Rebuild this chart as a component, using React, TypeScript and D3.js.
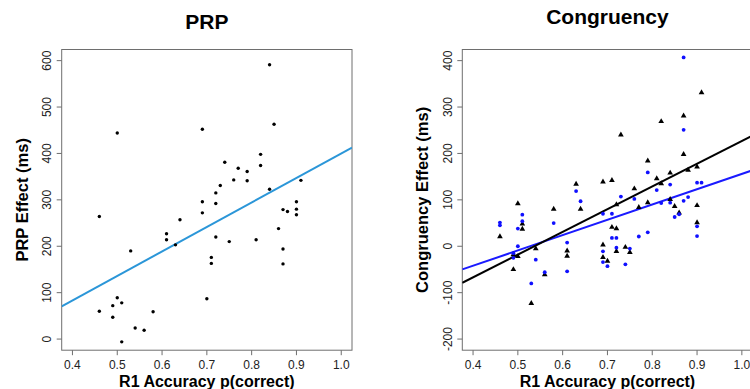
import React, { useEffect, useRef } from 'react';
import * as d3 from 'd3';

// PRP panel: R1 accuracy vs PRP effect
const prpAcc = [0.46, 0.46, 0.49, 0.49, 0.50, 0.50, 0.51, 0.51, 0.53, 0.54, 0.56, 0.58, 0.61, 0.61, 0.63, 0.64,
  0.69, 0.69, 0.69, 0.70, 0.71, 0.71, 0.72, 0.72, 0.72, 0.73, 0.74, 0.75, 0.76, 0.77, 0.79, 0.79, 0.81, 0.82,
  0.82, 0.84, 0.84, 0.85, 0.86, 0.87, 0.87, 0.87, 0.88, 0.90, 0.90, 0.90, 0.91];
const prpEffect = [264, 60, 72, 47, 89, 444, 78, -6, 190, 24, 19, 59, 227, 214, 203, 257,
  452, 296, 272, 87, 176, 163, 315, 292, 220, 331, 381, 210, 343, 368, 361, 341, 214, 398,
  374, 591, 323, 463, 238, 279, 194, 162, 275, 296, 280, 268, 342];

// Congruency panel, blue dots
const blueAcc = [0.46, 0.46, 0.50, 0.50, 0.51, 0.51, 0.49, 0.49, 0.53, 0.54, 0.56, 0.58, 0.61, 0.61, 0.63, 0.64,
  0.69, 0.69, 0.69, 0.70, 0.71, 0.71, 0.72, 0.72, 0.73, 0.74, 0.75, 0.76, 0.77, 0.79, 0.79, 0.81, 0.82,
  0.84, 0.84, 0.85, 0.86, 0.87, 0.87, 0.87, 0.88, 0.90, 0.91, 0.90, 0.90];
const blueEffect = [51, 45, 38, 0, 68, 54, -15, -25, -80, -29, -56, 50, 8, -54, 119, 97,
  70, -11, -34, -43, 70, 18, 18, -3, 107, -39, -5, 102, 21, 159, 30, 121, 93,
  133, 94, 63, 69, 407, 251, 98, 106, 137, 137, 43, 22];

// Congruency panel, black triangles
const triAcc = [0.46, 0.49, 0.49, 0.50, 0.50, 0.51, 0.51, 0.54, 0.53, 0.56, 0.58, 0.61, 0.61, 0.63, 0.64,
  0.69, 0.69, 0.69, 0.70, 0.71, 0.71, 0.72, 0.72, 0.72, 0.73, 0.74, 0.75, 0.76, 0.77, 0.79, 0.79, 0.81,
  0.82, 0.82, 0.84, 0.84, 0.85, 0.86, 0.87, 0.87, 0.88, 0.90, 0.90, 0.90, 0.91];
const triEffect = [21, -50, -18, -22, 92, 48, 37, -5, -123, -61, 80, -10, -21, 134, 80,
  139, 3, -24, -32, 142, 41, 38, 90, -11, 240, -2, -13, 124, 84, 184, 94, 146,
  269, 135, 158, 101, 86, 72, 281, 198, 164, 171, 88, 51, 331];

// regression lines as drawn in the figure: [intercept, slope]
const prpFit = [-128, 528];
const blueFit = [-174, 330];
const triFit = [-263, 490];

const xTicks = [0.4, 0.5, 0.6, 0.7, 0.8, 0.9, 1.0];
const prpTicks = [0, 100, 200, 300, 400, 500, 600];
const congTicks = [-200, -100, 0, 100, 200, 300, 400];

const App = () => {
  const ref = useRef<SVGSVGElement>(null);

  useEffect(() => {
    const svg = d3.select(ref.current);
    svg.selectAll('*').remove();
    const font = 'Liberation Sans, Arial, sans-serif';
    const top = 49.5, bottom = 350.2;
    const xDomain = [0.376, 1.024];

    const drawPanel = (left: number, right: number, yDomain: number[], yTicks: number[],
      title: string, yLabel: string, titleY: number, id: string) => {
      const x = d3.scaleLinear().domain(xDomain).range([left, right]);
      const y = d3.scaleLinear().domain(yDomain).range([bottom, top]);
      const g = svg.append('g');

      g.append('defs').append('clipPath').attr('id', id)
        .append('rect').attr('x', left).attr('y', top).attr('width', right - left).attr('height', bottom - top);

      g.append('rect')
        .attr('x', left).attr('y', top).attr('width', right - left).attr('height', bottom - top)
        .attr('fill', 'none').attr('stroke', '#6e6e6e').attr('stroke-width', 1);

      // x axis ticks
      g.selectAll('.xt').data(xTicks).enter().append('line')
        .attr('x1', d => x(d)).attr('x2', d => x(d))
        .attr('y1', bottom).attr('y2', bottom + 5)
        .attr('stroke', '#6e6e6e');
      g.selectAll('.xl').data(xTicks).enter().append('text')
        .attr('x', d => x(d)).attr('y', bottom + 18.8)
        .attr('text-anchor', 'middle')
        .style('font', `12px ${font}`).style('fill', '#222')
        .text(d => d.toFixed(1));

      // y axis ticks
      g.selectAll('.yt').data(yTicks).enter().append('line')
        .attr('x1', left - 5).attr('x2', left)
        .attr('y1', d => y(d)).attr('y2', d => y(d))
        .attr('stroke', '#6e6e6e');
      g.selectAll('.yl').data(yTicks).enter().append('text')
        .attr('transform', d => `translate(${left - 10.5},${y(d)}) rotate(-90)`)
        .attr('text-anchor', 'middle')
        .style('font', `12px ${font}`).style('fill', '#222')
        .text(d => d);

      g.append('text')
        .attr('x', (left + right) / 2).attr('y', titleY)
        .attr('text-anchor', 'middle')
        .style('font', `bold 21px ${font}`).style('fill', '#000')
        .text(title);
      g.append('text')
        .attr('x', left + (352 - 61.7) / 2).attr('y', 387)
        .attr('text-anchor', 'middle')
        .style('font', `bold 16px ${font}`).style('fill', '#000')
        .text('R1 Accuracy p(correct)');
      g.append('text')
        .attr('transform', `translate(${left - 34},${(top + bottom) / 2}) rotate(-90)`)
        .attr('text-anchor', 'middle')
        .style('font', `bold 16.5px ${font}`).style('fill', '#000')
        .text(yLabel);

      const plot = g.append('g').attr('clip-path', `url(#${id})`);
      return { x, y, plot };
    };

    const fitLine = (p: any, coef: number[], color: string) => {
      p.plot.append('line')
        .attr('x1', p.x(xDomain[0])).attr('y1', p.y(coef[0] + coef[1] * xDomain[0]))
        .attr('x2', p.x(xDomain[1])).attr('y2', p.y(coef[0] + coef[1] * xDomain[1]))
        .attr('stroke', color).attr('stroke-width', 2);
    };

    // PRP
    const p1 = drawPanel(61.7, 352, [-24, 624], prpTicks, 'PRP', 'PRP Effect (ms)', 28.5, 'clipA');
    fitLine(p1, prpFit, '#2b96d8');
    p1.plot.selectAll('circle').data(prpAcc).enter().append('circle')
      .attr('cx', d => p1.x(d)).attr('cy', (d, i) => p1.y(prpEffect[i]))
      .attr('r', 1.7).attr('fill', '#000');

    // Congruency
    const p2 = drawPanel(462.3, 752.6, [-224, 424], congTicks, 'Congruency', 'Congruency Effect (ms)', 24, 'clipB');
    fitLine(p2, blueFit, '#1a1aff');
    fitLine(p2, triFit, '#000');
    p2.plot.selectAll('.tri').data(triAcc).enter().append('path')
      .attr('d', d3.symbol().type(d3.symbolTriangle).size(14))
      .attr('transform', (d, i) => `translate(${p2.x(d)},${p2.y(triEffect[i])})`)
      .attr('fill', '#000');
    p2.plot.selectAll('.dot').data(blueAcc).enter().append('circle')
      .attr('cx', d => p2.x(d)).attr('cy', (d, i) => p2.y(blueEffect[i]))
      .attr('r', 1.9).attr('fill', '#1010ff');
  }, []);

  return (
    <svg ref={ref} width={750} height={389}
      style={{ position: 'absolute', left: 0, top: 0, background: '#fff' }} />
  );
};

export default App;
